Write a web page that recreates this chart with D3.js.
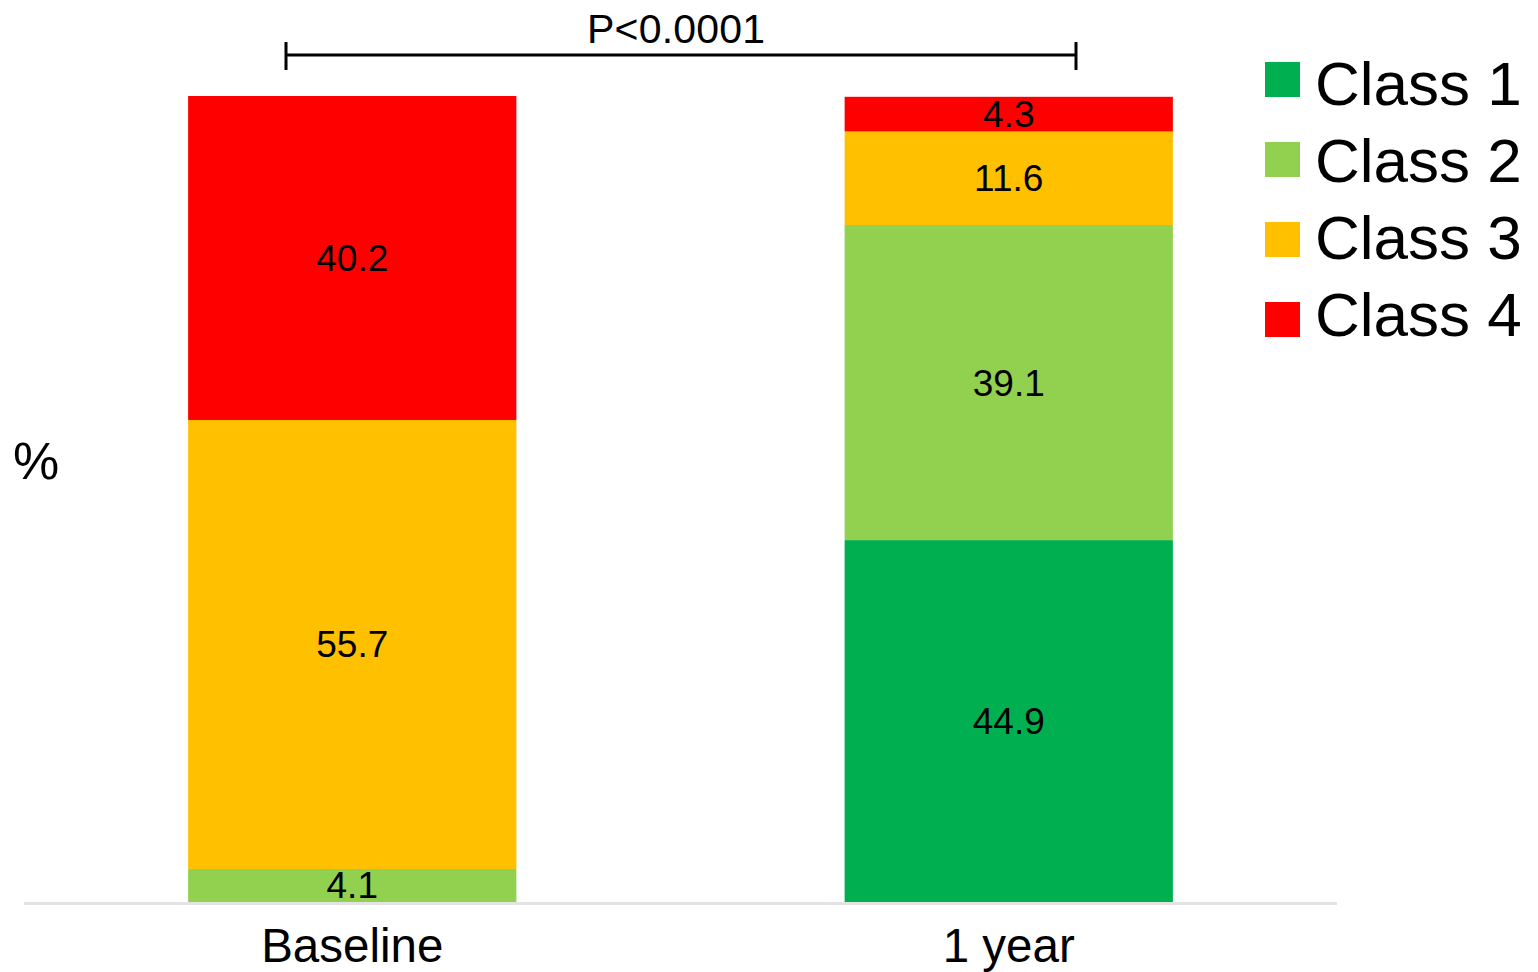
<!DOCTYPE html>
<html>
<head>
<meta charset="utf-8">
<script src="https://cdnjs.cloudflare.com/ajax/libs/d3/7.8.5/d3.min.js"></script>
<style>
  body { margin: 0; background: #fff; }
  text { font-family: "Liberation Sans", Arial, sans-serif; fill: #000; }
</style>
</head>
<body>
<svg></svg>
<script>
// chart size
var width = 1538;
var height = 972;

// data
var groups = ["Baseline", "1 year"];
var classes = ["Class 1", "Class 2", "Class 3", "Class 4"];
var class1 = [0, 44.9];
var class2 = [4.1, 39.1];
var class3 = [55.7, 11.6];
var class4 = [40.2, 4.3];
var pLabel = "P<0.0001";

var colors = ["#00b050", "#92d050", "#ffc000", "#ff0000"];

var rows = groups.map(function(g, i) {
    return { group: g, "Class 1": class1[i], "Class 2": class2[i], "Class 3": class3[i], "Class 4": class4[i] };
});

var svg = d3.select("svg")
    .attr("width", width)
    .attr("height", height);

var x = d3.scaleBand()
    .domain(groups)
    .range([24, 1337])
    .paddingInner(0.5)
    .paddingOuter(0.25);

var y = d3.scaleLinear()
    .domain([0, 100])
    .range([902, 96]);

var color = d3.scaleOrdinal().domain(classes).range(colors);

var stack = d3.stack().keys(classes)(rows);

// stacked bars
var layer = svg.selectAll("g.layer")
    .data(stack)
    .enter().append("g")
    .attr("class", "layer")
    .attr("fill", function(d) { return color(d.key); });

layer.selectAll("rect")
    .data(function(d) { return d.filter(function(s) { return s[1] - s[0] > 0; }); })
    .enter().append("rect")
    .attr("x", function(d) { return x(d.data.group); })
    .attr("y", function(d) { return y(d[1]); })
    .attr("width", x.bandwidth())
    .attr("height", function(d) { return y(d[0]) - y(d[1]); });

// value labels
layer.selectAll("text")
    .data(function(d) { return d.filter(function(s) { return s[1] - s[0] > 0; }); })
    .enter().append("text")
    .attr("x", function(d) { return x(d.data.group) + x.bandwidth() / 2; })
    .attr("y", function(d) { return (y(d[0]) + y(d[1])) / 2 + 13; })
    .attr("text-anchor", "middle")
    .style("font-size", "37px")
    .text(function(d) { return d3.format(".1f")(d[1] - d[0]); });

// baseline axis line
svg.append("line")
    .attr("x1", x.range()[0])
    .attr("x2", x.range()[1])
    .attr("y1", 903.5)
    .attr("y2", 903.5)
    .attr("stroke", "#e3e3e3")
    .attr("stroke-width", 3);

// category labels
svg.selectAll("text.cat")
    .data(groups)
    .enter().append("text")
    .attr("class", "cat")
    .attr("x", function(d) { return x(d) + x.bandwidth() / 2; })
    .attr("y", 962)
    .attr("text-anchor", "middle")
    .style("font-size", "47.5px")
    .text(function(d) { return d; });

// y label
svg.append("text")
    .attr("x", 13)
    .attr("y", 479)
    .style("font-size", "52px")
    .text("%");

// p-value bracket
var bx1 = 286, bx2 = 1076, by = 55;
var bracket = svg.append("g")
    .attr("stroke", "#000")
    .attr("stroke-width", 3);
bracket.append("line").attr("x1", bx1).attr("x2", bx2).attr("y1", by).attr("y2", by);
bracket.append("line").attr("x1", bx1).attr("x2", bx1).attr("y1", by - 13).attr("y2", by + 15);
bracket.append("line").attr("x1", bx2).attr("x2", bx2).attr("y1", by - 13).attr("y2", by + 15);

svg.append("text")
    .attr("x", (bx1 + bx2) / 2 - 5)
    .attr("y", 43)
    .attr("text-anchor", "middle")
    .attr("textLength", 178)
    .style("font-size", "41px")
    .text(pLabel);

// legend
var legend = svg.selectAll("g.legend")
    .data(classes)
    .enter().append("g")
    .attr("class", "legend");

legend.append("rect")
    .attr("x", 1265)
    .attr("y", function(d, i) { return 62 + i * 80; })
    .attr("width", 35)
    .attr("height", 35)
    .attr("fill", function(d) { return color(d); });

legend.append("text")
    .attr("x", 1315)
    .attr("y", function(d, i) { return 105 + i * 77; })
    .style("font-size", "62px")
    .text(function(d) { return d; });
</script>
</body>
</html>
